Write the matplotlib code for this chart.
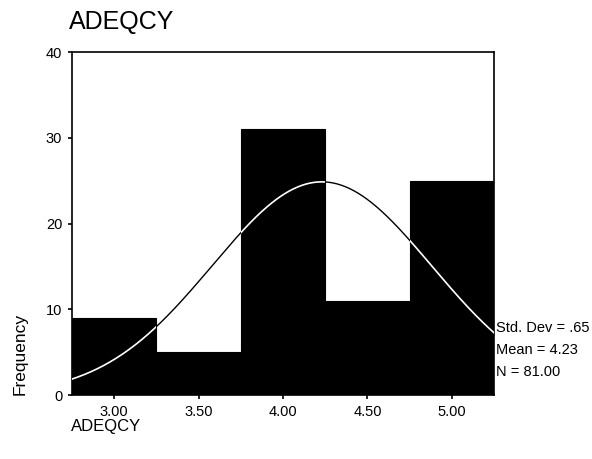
import numpy as np
import matplotlib
matplotlib.use("Agg")
import matplotlib.pyplot as plt

centers = [3.00, 3.50, 4.00, 4.50, 5.00]
counts = [9, 5, 31, 11, 25]
tick_labels = ["3.00", "3.50", "4.00", "4.50", "5.00"]
std_dev = 0.65
mean = 4.23
n = 81
bin_width = 0.5

plt.rcParams['font.family'] = ['Liberation Sans', 'DejaVu Sans']

fig = plt.figure(figsize=(5.92, 4.59), dpi=100)
ax = fig.add_axes([0.1216, 0.1394, 0.7129, 0.7473])

bars = ax.bar(centers, counts, width=bin_width, color='black', edgecolor='black',
              linewidth=0.8, zorder=2)

xs = np.linspace(2.75, 5.25, 400)
ys = n * bin_width / (std_dev * np.sqrt(2 * np.pi)) * np.exp(-0.5 * ((xs - mean) / std_dev) ** 2)
ax.plot(xs, ys, color='black', linewidth=1.0, zorder=1)
for b in bars:
    ln, = ax.plot(xs, ys, color='white', linewidth=1.2, zorder=3)
    ln.set_clip_path(b)

ax.set_xlim(2.75, 5.25)
ax.set_ylim(0, 40)
ax.set_xticks(centers)
ax.set_xticklabels(tick_labels, fontsize=10.5)
ax.set_yticks([0, 10, 20, 30, 40])
ax.set_yticklabels(["0", "10", "20", "30", "40"], fontsize=10.5)
ax.tick_params(axis='both', direction='out', length=3, width=1.2, pad=4)
for s in ax.spines.values():
    s.set_linewidth(1.2)

fig.text(69 / 592, 1 - 22 / 459, "ADEQCY", fontsize=18, va='center', ha='left')
fig.text(20 / 592, 1 - 354 / 459, "Frequency", fontsize=12.5, rotation=90, va='center', ha='center')
fig.text(71 / 592, 1 - 426 / 459, "ADEQCY", fontsize=12, va='center', ha='left')

stats = [f"Std. Dev = {str(std_dev).lstrip('0')}", f"Mean = {mean:.2f}", f"N = {n:.2f}"]
for i, t in enumerate(stats):
    fig.text(496 / 592, 1 - (328 + 22 * i) / 459, t, fontsize=10.5, va='center', ha='left')

fig.savefig("out.png", dpi=100)
